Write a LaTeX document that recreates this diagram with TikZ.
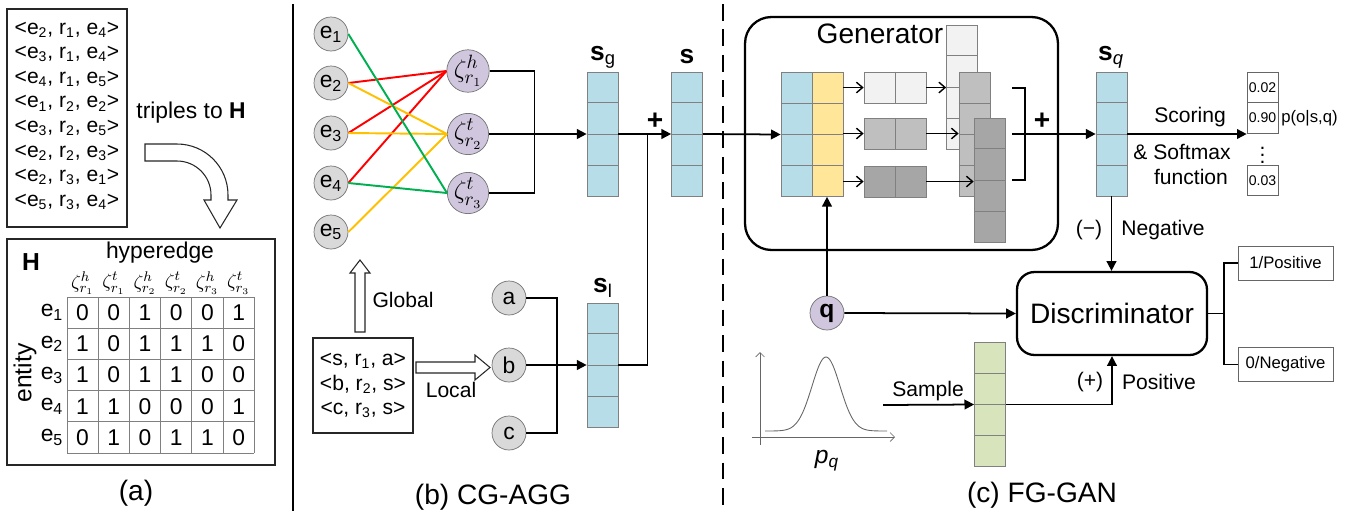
\documentclass[tikz,border=0pt]{standalone}
\usepackage{fontspec}
\setmainfont{Liberation Sans}
\usetikzlibrary{arrows.meta}
\usetikzlibrary{calc}

\definecolor{vecblue}{RGB}{183,221,232}
\definecolor{vecyellow}{RGB}{255,230,153}
\definecolor{vecgreen}{RGB}{216,228,188}
\definecolor{lavender}{RGB}{208,199,223}
\definecolor{nodegray}{RGB}{217,217,217}
\definecolor{edgered}{RGB}{255,0,0}
\definecolor{edgeorange}{RGB}{255,192,0}
\definecolor{edgegreen}{RGB}{0,176,80}
\definecolor{genlight}{RGB}{242,242,242}
\definecolor{genmid}{RGB}{191,191,191}
\definecolor{gendark}{RGB}{166,166,166}

\newcommand\fsz[1]{\fontsize{#1}{#1}\selectfont}

% a column vector of four cells
\newcommand\vcol[3]{%
	\node[vec, fill=#3] (#1) at (#2) {};
	\foreach \k in {1,2,3}
		\draw[cellline] ($(#1.north west)!\k/4!(#1.south west)$) -- ($(#1.north east)!\k/4!(#1.south east)$);
}
% a row of two cells
\newcommand\hpair[3]{%
	\node[pair, fill=#3] (#1) at (#2) {};
	\draw[cellline] (#1.north) -- (#1.south);
}

\tikzset{
	ent/.style={circle, draw=black!55, fill=nodegray, minimum size=0.68cm, inner sep=0pt, font=\fsz{13}},
	hyp/.style={circle, draw=black!55, fill=lavender, minimum size=0.68cm, inner sep=0pt, font=\fsz{15}},
	vec/.style={draw=black!50, minimum width=0.62cm, minimum height=2.48cm, inner sep=0pt},
	pair/.style={draw=black!50, minimum width=1.24cm, minimum height=0.62cm, inner sep=0pt},
	cellline/.style={draw=black!50, line width=0.5pt},
	prob/.style={draw=black!60, minimum width=0.62cm, minimum height=0.61cm, inner sep=0pt, font=\fsz{8}},
	outbox/.style={draw=black!60, minimum width=1.9cm, minimum height=0.68cm, inner sep=0pt, font=\fsz{9.5}},
	conn/.style={line width=1pt},
	arr/.style={conn, -{Triangle[length=5.5pt,width=5.5pt]}},
	barb/.style={line width=0.8pt, -{Straight Barb[length=3.5pt,width=6pt]}},
	hollow/.style={draw=black!85, fill=white, line width=0.6pt},
	txt/.style={font=\fsz{12}, inner sep=1pt},
	vlabel/.style={font=\fsz{15}, inner sep=1pt},
	paneltitle/.style={font=\fsz{16}, inner sep=1pt},
	incid/.style={line width=1.1pt}
}

\begin{document}
\begin{tikzpicture}[x=0.02cm, y=-0.02cm]

	\useasboundingbox (0,0) rectangle (1353,515);

	% Panel separators
	\draw [line width=1.1pt] (293,4) -- (293,511);
	\draw [line width=1.1pt, dash pattern=on 9.5pt off 5pt] (723,4) -- (723,511);

	% (a) triples and the incidence matrix H
	\draw [black!85, line width=0.6pt] (7,9) rectangle (127,227);
	\foreach \h/\r/\t [count=\i] in {2/1/4, 3/1/4, 4/1/5, 1/2/2, 3/2/5, 2/2/3, 2/3/1, 5/3/4}
		\node [txt] (tr\i) at (67, 5+24.6*\i) {<e\textsubscript{\h}, r\textsubscript{\r}, e\textsubscript{\t}>};
	\node [font=\fsz{13}] (tolab) at (191,113) {triples to \textbf{H}};
	\draw [hollow] (145,144) -- (177,144) .. controls (205.2,144) and (228,166.8) .. (228,195) -- (228,200) -- (237,200) -- (220,228) -- (204,200) -- (211,200) -- (211,195) .. controls (211,176.2) and (195.8,161) .. (177,161) -- (145,161) -- cycle;

	\draw [black!85, line width=0.6pt] (7,239) rectangle (275,465);
	\node [font=\bfseries\fsz{14}] (hlab) at (31,262) {H};
	\node [font=\fsz{13}] (hyplab) at (160,253) {hyperedge};
	\node [font=\fsz{14}, rotate=90] (entlab) at (25,373) {entity};
	\foreach \s/\r [count=\j] in {h/1, t/1, h/2, t/2, h/3, t/3}
		\node [font=\fsz{11}] (col\j) at (67+31.2*\j-15.6, 283) {$\zeta^{\s}_{r_{\r}}$};
	\foreach \j in {0,...,6}
		\draw [black!50, line width=0.5pt] (67+31.2*\j,297) -- (67+31.2*\j,453);
	\foreach \i in {0,...,5}
		\draw [black!50, line width=0.5pt] (67,297+31.2*\i) -- (254.2,297+31.2*\i);
	\foreach \row [count=\i] in {{0,0,1,0,0,1}, {1,0,1,1,1,0}, {1,0,1,1,0,0}, {1,1,0,0,0,1}, {0,1,0,1,1,0}} {
		\node [font=\fsz{13}] (row\i) at (52, 297+31.2*\i-15.6) {e\textsubscript{\i}};
		\foreach \v [count=\j] in \row
			\node [font=\fsz{13}] (m\i\j) at (67+31.2*\j-15.6, 297+31.2*\i-15.6) {\v};
	}
	\node [paneltitle] (capa) at (136,493) {(a)};

	% (b) entities, hyperedges and global aggregation
	\foreach \i/\y in {1/34, 2/83, 3/133, 4/183, 5/232}
		\node [ent] (e\i) at (331,\y) {e\textsubscript{\i}};
	\node [hyp] (z1) at (468,71) {$\zeta^h_{r_1}$};
	\node [hyp] (z2) at (468,134) {$\zeta^t_{r_2}$};
	\node [hyp] (z3) at (468,193) {$\zeta^t_{r_3}$};
	\foreach \a in {2,3,4}
		\draw [incid, edgered] (e\a.east) -- (z1.west);
	\foreach \a in {2,3,5}
		\draw [incid, edgeorange] (e\a.east) -- (z2.west);
	\foreach \a in {1,4}
		\draw [incid, edgegreen] (e\a.east) -- (z3.west);

	\vcol{sg}{602.5,134}{vecblue}
	\vcol{s}{687,134}{vecblue}
	\node [vlabel] (sglab) at (603,57) {\textbf{s}\textsubscript{g}};
	\node [vlabel] (slab) at (687,57) {\textbf{s}};
	\draw [conn] (z1.east) -- ++(45,0) |- (z3.east);
	\draw [arr] (z2.east) -- (sg.west);
	\draw [arr] (sg.east) -- (s.west);
	\node [font=\bfseries\fsz{16}] (plus1) at (655,121) {+};

	% (b) local aggregation
	\node [draw=black!85, line width=0.6pt, minimum width=2cm, minimum height=1.9cm, align=center, font=\fontsize{12}{13.9}\selectfont] (loc) at (363,385.5)
		{<s, r\textsubscript{1}, a>\\<b, r\textsubscript{2}, s>\\<c, r\textsubscript{3}, s>};
	\draw [hollow] (355,332) -- (355,273) -- (350,273) -- (360,260) -- (370,273) -- (365,273) -- (365,332) -- cycle;
	\node [txt] (glob) at (403,300) {Global};
	\draw [hollow] (416,362) -- (475,362) -- (475,355) -- (490,367.5) -- (475,380) -- (475,373) -- (416,373) -- cycle;
	\node [txt] (loclab) at (451,390) {Local};
	\foreach \n/\y in {a/298, b/365, c/433}
		\node [ent] (\n) at (509,\y) {\n};
	\vcol{sl}{602.5,365}{vecblue}
	\node [vlabel] (sllab) at (603,288) {\textbf{s}\textsubscript{l}};
	\draw [conn] (a.east) -- ++(31,0) |- (c.east);
	\draw [arr] (b.east) -- (sl.west);
	\draw [conn] (sl.east) -| ($(sg.east)!0.55!(s.west)$);
	\node [paneltitle] (capb) at (493,497) {(b) CG-AGG};

	% (c) generator
	\node [draw, rounded corners=15pt, line width=1.3pt, minimum width=6.26cm, minimum height=4.66cm] (gen) at (901.5,133.5) {};
	\node [font=\fsz{16}] (gentxt) at (880,34) {Generator};
	\vcol{gb}{796.5,134.5}{vecblue}
	\vcol{gy}{827.5,134.5}{vecyellow}
	\draw [arr] (s.east) -- (gb.west);
	\hpair{p1}{895,87.5}{genlight}
	\hpair{p2}{895,133.5}{genmid}
	\hpair{p3}{895,181.5}{gendark}
	\foreach \p in {1,2,3}
		\draw [barb] (gy.east |- p\p) -- (p\p.west);
	\vcol{c1}{962,87}{genlight}
	\draw [barb] (p1.east) -- (p1.east -| c1.west);
	\vcol{c2}{974.5,134.5}{genmid}
	\draw [barb] (p2.east) -- (p2.east -| c2.west);
	\vcol{c3}{989.5,180}{gendark}
	\draw [barb] (p3.east) -- (p3.east -| c3.west);
	\coordinate (g1) at (1012,88);
	\coordinate (g2) at (1012,134);
	\coordinate (g3) at (1012,180);
	\draw [conn] (g1) -- ++(13,0) |- (g3);
	\node [font=\bfseries\fsz{16}] (plus2) at (1042,121) {+};
	\vcol{sq}{1111.5,134}{vecblue}
	\node [vlabel] (sqlab) at (1111,57) {\textbf{s}\textsubscript{\textit{q}}};
	\draw [arr] (g2) -- (sq.west);

	% (c) scoring
	\node [prob] (pr1) at (1262.5,87.5) {0.02};
	\node [prob] (pr2) at (1262.5,118) {0.90};
	\node [font=\fsz{12}] (pdots) at (1262.5,150) {\vdots};
	\node [prob] (pr3) at (1262.5,180.5) {0.03};
	\node [font=\fsz{9.5}, anchor=west, inner sep=1.5pt] (pcond) at (pr2.east) {p(o|s,q)};
	\draw [arr] (sq.east) -- (sq.east -| pr2.west);
	\node [txt] (score1) at (1190,117) {Scoring};
	\node [txt] (score2) at (1182,152) {\& Softmax};
	\node [txt] (score3) at (1191,177) {function};

	% (c) discriminator
	\node [draw, rounded corners=10pt, line width=1.3pt, minimum width=3.8cm, minimum height=1.66cm, font=\fsz{16}] (disc) at (1112,313.5) {Discriminator};
	\node [hyp, font=\bfseries\fsz{14}] (q) at (827,313) {q};
	\draw [arr] (q.north) -- (q.north |- gy.south);
	\draw [arr] (q.east) -- (disc.west);
	\draw [arr] (sq.south) -- (sq.south |- disc.north);
	\node [txt] (neglab1) at (1089,230) {(−)};
	\node [txt] (neglab2) at (1163,230) {Negative};
	\node [outbox] (pos) at (1285.5,263) {1/Positive};
	\node [outbox] (neg) at (1285.5,364.5) {0/Negative};
	\draw [conn] (disc.east) -- ++(16,0) coordinate (br);
	\draw [conn] (pos.west) -| (br) |- (neg.west);

	% (c) sampling from p_q
	\draw [black!60, line width=0.4pt, -{Straight Barb[length=2.5pt,width=5pt]}] (760,445) -- (760,352);
	\draw [black!60, line width=0.4pt, -{Straight Barb[length=2.5pt,width=5pt]}] (752,437) -- (895,437);
	\draw [black!60, line width=0.5pt, domain=765:887, samples=80, smooth] plot (\x, {431-74*exp(-0.5*((\x-826)/14)*((\x-826)/14))});
	\node [font=\fsz{14}] (pq) at (827,461) {\textit{p}\textsubscript{\textit{q}}};
	\vcol{gv}{990,404.5}{vecgreen}
	\coordinate (smp) at (883,405);
	\draw [arr] (smp) -- (gv.west);
	\node [txt] (smplab) at (928,391) {Sample};
	\draw [arr] (gv.east) -| (disc.south);
	\node [txt] (poslab1) at (1090,382) {(+)};
	\node [txt] (poslab2) at (1159,382) {Positive};
	\node [paneltitle] (capc) at (1042,495) {(c) FG-GAN};

\end{tikzpicture}
\end{document}
